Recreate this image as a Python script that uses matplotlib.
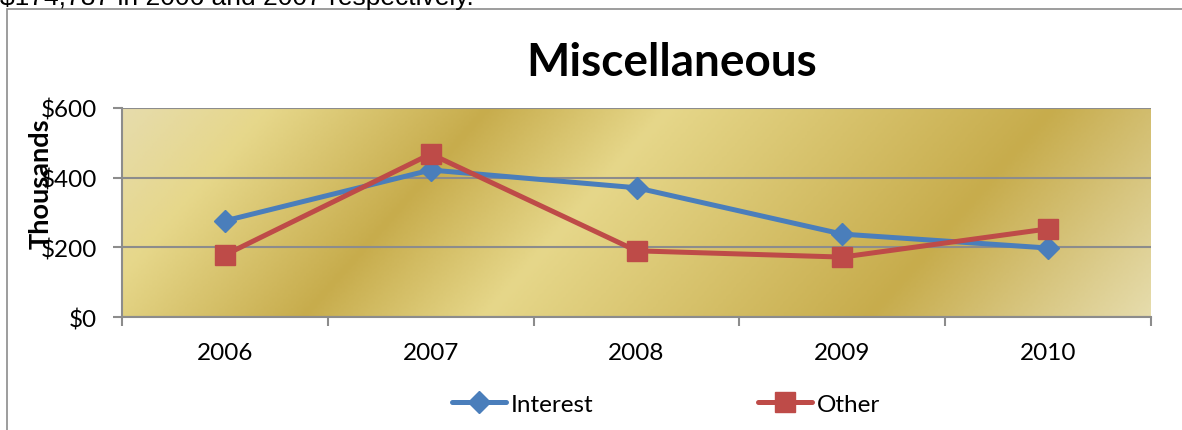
import numpy as np
import matplotlib
matplotlib.use("Agg")
from matplotlib import pyplot as plt
from matplotlib.colors import LinearSegmentedColormap
from matplotlib.patches import Rectangle

years = ["2006", "2007", "2008", "2009", "2010"]
interest = [276, 422, 371, 238, 198]
other = [178, 468, 190, 172, 253]
y_ticks = [0, 200, 400, 600]
y_labels = ["$0", "$200", "$400", "$600"]

FONT = "Lato"
FS = 17.5
W, H = 1182, 431


def gold_background(ax):
    # excel "gold" preset, linear diagonal
    stops = [(0.0, "#e6dcac"), (0.12, "#e6d78a"), (0.30, "#c7ac4c"),
             (0.45, "#e6d78a"), (0.77, "#c7ac4c"), (1.0, "#e6dcac")]
    cmap = LinearSegmentedColormap.from_list("gold", stops)
    pw, ph = 1029, 209
    xs = np.linspace(0, pw, 400)
    ys = np.linspace(0, ph, 120)
    xx, yy = np.meshgrid(xs, ys)
    t = (xx + 0.876 * yy) / (pw + 0.876 * ph)
    ax.imshow(t, cmap=cmap, extent=(0, 1, 0, 1), transform=ax.transAxes,
              aspect="auto", origin="upper", zorder=0, interpolation="bilinear")


def main():
    fig = plt.figure(figsize=(W / 100, H / 100), dpi=100)
    fig.patch.set_facecolor("white")

    # chart frame
    fig.patches.append(Rectangle((7 / W, -0.02), 1.1, 1 - 10 / H + 0.02,
                                 transform=fig.transFigure, fill=False,
                                 edgecolor="#8c8c8c", lw=1.2))
    # leftover sentence from the document above the chart
    fig.text(0, 1 - 5 / H, "$174,787 in 2006 and 2007 respectively.",
             family="Liberation Sans", fontsize=19, va="baseline", ha="left")

    ax = fig.add_axes([122 / W, 1 - 318 / H, (1151 - 122) / W, (318 - 109) / H])
    gold_background(ax)
    x = np.arange(len(years))
    ax.plot(x, interest, color="#4a7ebb", lw=3.6, marker="D", ms=11,
            label="Interest", zorder=3, solid_capstyle="round")
    ax.plot(x, other, color="#be4b48", lw=3.6, marker="s", ms=14.5,
            label="Other", zorder=4, solid_capstyle="round")

    ax.set_xlim(-0.5, len(years) - 0.5)
    ax.set_ylim(0, 600)
    ax.set_yticks(y_ticks)
    ax.set_yticklabels(y_labels, family=FONT, fontsize=FS)
    ax.set_xticks(np.arange(-0.5, len(years)), labels=[""] * (len(years) + 1))
    ax.set_xticks(x, labels=years, minor=True)
    for lab in ax.get_xticklabels(minor=True):
        lab.set_family(FONT)
        lab.set_fontsize(FS)
    ax.tick_params(axis="x", which="minor", length=0, pad=18)
    ax.tick_params(axis="x", which="major", length=6.5, color="#8c8c8c", width=1.5)
    ax.tick_params(axis="y", length=6.5, color="#8c8c8c", width=1.5, pad=11.5)
    ax.grid(axis="y", color="#8c8c8c", lw=1.5, zorder=1)
    ax.set_axisbelow(False)
    for gl in ax.get_ygridlines():
        gl.set_zorder(1)
    for side in ["top", "right"]:
        ax.spines[side].set_visible(False)
    for side in ["left", "bottom"]:
        ax.spines[side].set_color("#8c8c8c")
        ax.spines[side].set_linewidth(1.5)

    fig.text(672 / W, 1 - 63 / H, "Miscellaneous", family=FONT, fontweight="bold",
             fontsize=33, ha="center", va="center")
    fig.text(41 / W, 1 - 184 / H, "Thousands", family=FONT, fontweight="bold",
             fontsize=19.5, rotation=90, ha="center", va="center")

    fig.legend(loc="center", bbox_to_anchor=(666 / W, 1 - 405 / H), ncol=2,
               frameon=False, prop={"family": FONT, "size": FS},
               handlelength=2.2, handletextpad=0.2, columnspacing=6.8,
               numpoints=1)

    fig.savefig("out.png", dpi=100)


if __name__ == '__main__':
    main()
